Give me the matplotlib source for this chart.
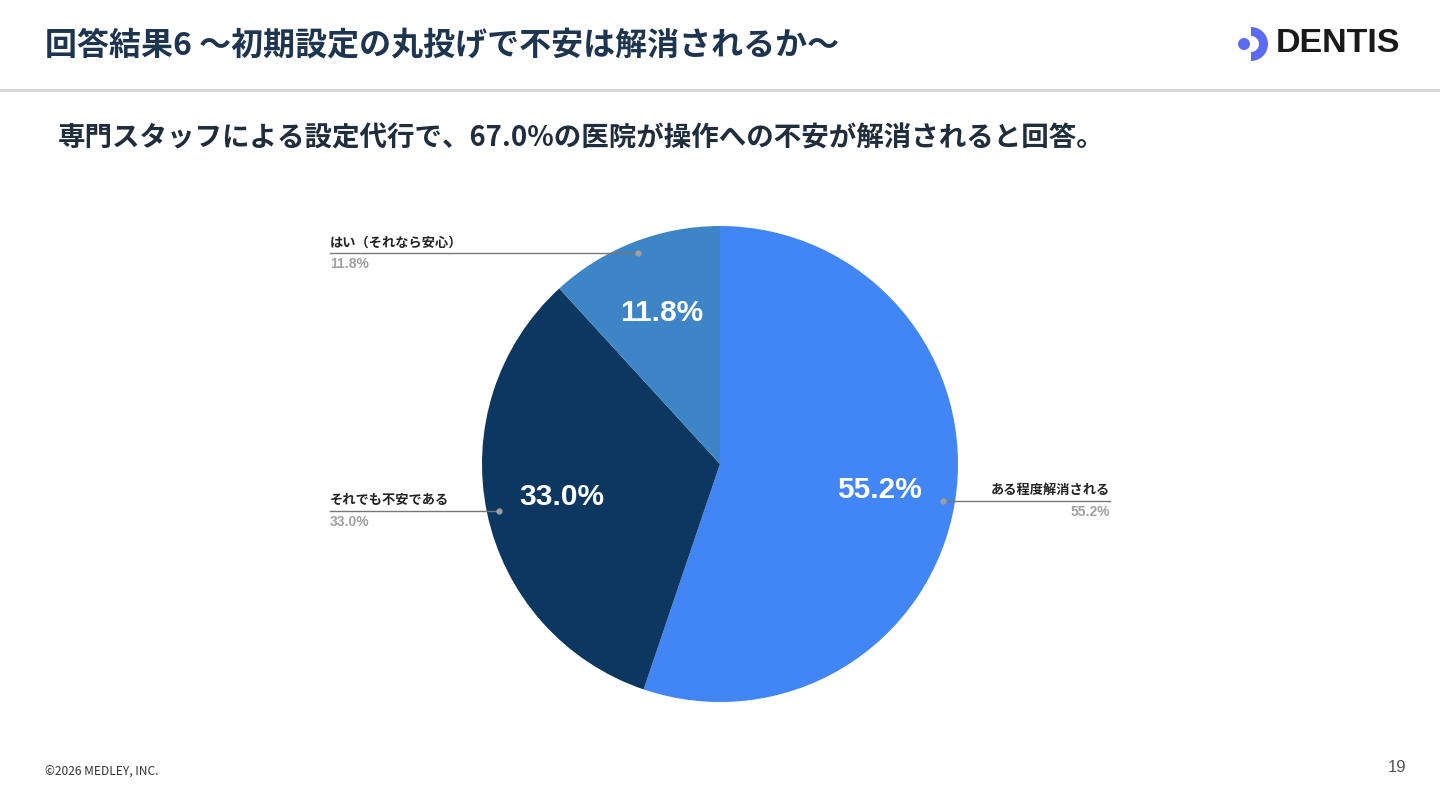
import numpy as np
import matplotlib.pyplot as plt
from matplotlib.patches import Wedge, Circle

# data
labels = ['ある程度解消される', 'それでも不安である', 'はい（それなら安心）']
values = [55.2, 33.0, 11.8]
colors = ['#4285F4', '#0B3761', '#3D85C6']

title = '回答結果6 〜初期設定の丸投げで不安は解消されるか〜'
subtitle = '専門スタッフによる設定代行で、67.0%の医院が操作への不安が解消されると回答。'

JP = ['Noto Sans CJK JP', 'DejaVu Sans']
W, H = 1440, 810


def Y(y):
    # pixel row (from top) -> data y
    return H - y


fig = plt.figure(figsize=(14.4, 8.1), dpi=100)
ax = fig.add_axes([0, 0, 1, 1])

cx, cy, R = 720, Y(464), 238
wedges, _, pcts = ax.pie(values, colors=colors, startangle=90, counterclock=False,
                         center=(cx, cy), radius=R, autopct='%.1f%%', pctdistance=0.68,
                         wedgeprops={'linewidth': 0},
                         textprops={'color': 'white', 'fontsize': 21.5,
                                    'fontweight': 'bold', 'family': 'Liberation Sans'})

# leader lines and outside labels
for w, lab, v in zip(wedges, labels, values):
    mid = np.deg2rad((w.theta1 + w.theta2) / 2)
    px = cx + 0.95 * R * np.cos(mid)
    py = cy + 0.95 * R * np.sin(mid)
    ax.plot(px, py, 'o', color='#9E9E9E', ms=3.5, zorder=5)
    if np.cos(mid) < 0:
        x_end, ha = 330, 'left'
    else:
        x_end, ha = 1110, 'right'
    ax.plot([px, x_end], [py, py], color='#777777', lw=1, zorder=4)
    ax.text(x_end, py + 11, lab, ha=ha, va='center', fontsize=9.5,
            fontweight='bold', color='#222222', family=JP)
    ax.text(x_end, py - 11, f'{v:.1f}%', ha=ha, va='center', fontsize=10,
            fontweight='bold', color='#A0A0A0', family='Liberation Sans')

# header
ax.text(45, Y(45), title, ha='left', va='center', fontsize=23,
        fontweight='bold', color='#1E3550', family=JP)
ax.plot([0, W], [Y(90), Y(90)], color='#D6D6D6', lw=2)
ax.text(58, Y(138), subtitle, ha='left', va='center', fontsize=19.8,
        fontweight='bold', color='#1F2D3D', family=JP)

# logo
ax.add_patch(Circle((1244, Y(44)), 6, color='#5B6CF0', lw=0))
ax.add_patch(Wedge((1251, Y(44)), 17, -90, 90, width=9, color='#5B6CF0', lw=0))
ax.text(1276, Y(44), 'DENTIS', ha='left', va='center', fontsize=24.5,
        fontweight='bold', color='#1A1A1A', family='Liberation Sans')

# footer
ax.text(45, Y(772), '©2026 MEDLEY, INC.', ha='left', va='center', fontsize=8.6,
        color='#333333', family=JP)
ax.text(1397, Y(767), '19', ha='center', va='center', fontsize=12,
        color='#555555', family='Liberation Sans')

ax.set_xlim(0, W)
ax.set_ylim(0, H)
ax.set_aspect('auto')
ax.axis('off')

fig.savefig('out.png', dpi=100, facecolor='white')
